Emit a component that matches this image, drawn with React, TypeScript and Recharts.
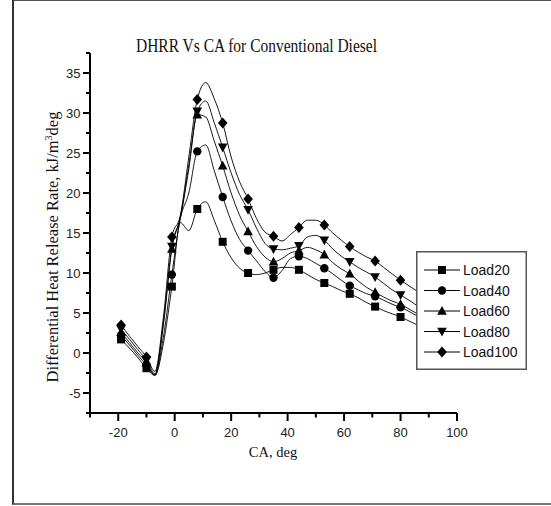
import React from 'react';
import { LineChart, Line, XAxis, YAxis, Legend } from 'recharts';

const CA = [-19, -16, -13, -10, -7, -4, -1, 2, 5, 8, 11, 14, 17, 20, 23, 26, 29, 32, 35, 38, 41, 44, 47, 50, 53, 56, 59, 62, 65, 68, 71, 74, 77, 80, 83, 86, 89];
const MARKER_CA = [-19, -10, -1, 8, 17, 26, 35, 44, 53, 62, 71, 80];

const LOAD20 = [1.7, 0.6, -0.6, -1.9, -2.8, 1.2, 8.3, 16.3, 15.3, 18.0, 18.9, 16.6, 13.9, 11.9, 10.6, 10.0, 9.8, 10.0, 10.4, 10.7, 10.7, 10.4, 9.8, 9.2, 8.75, 8.3, 7.8, 7.4, 6.9, 6.3, 5.8, 5.3, 4.9, 4.5, 4.0, 3.5, 3.0];
const LOAD40 = [2.2, 1.0, -0.3, -1.5, -2.7, 2.0, 9.8, 16.8, 20.0, 25.2, 26.0, 22.8, 19.5, 16.5, 14.2, 12.8, 11.5, 10.2, 9.4, 10.3, 11.8, 12.1, 11.8, 11.2, 10.6, 9.9, 9.1, 8.4, 7.9, 7.4, 7.1, 6.6, 6.1, 5.7, 5.2, 4.6, 4.1];
const LOAD60 = [2.6, 1.3, 0.0, -1.2, -2.8, 3.5, 13.0, 16.9, 23.0, 29.8, 29.5, 26.5, 23.4, 20.0, 17.2, 15.2, 13.3, 12.0, 11.4, 11.8, 12.5, 12.8, 13.2, 12.9, 12.3, 11.3, 10.5, 9.9, 9.0, 8.2, 7.6, 7.0, 6.5, 6.1, 5.5, 4.9, 4.3];
const LOAD80 = [3.0, 1.7, 0.4, -0.9, -2.6, 3.8, 13.3, 17.0, 23.5, 30.2, 31.5, 28.8, 25.7, 22.5, 19.8, 17.9, 15.6, 13.7, 13.0, 12.9, 13.1, 13.4, 14.5, 14.7, 14.1, 13.0, 12.1, 11.4, 10.7, 10.1, 9.5, 8.7, 7.9, 7.25, 6.6, 5.9, 5.2];
const LOAD100 = [3.5, 2.1, 0.8, -0.5, -2.3, 4.5, 14.5, 17.2, 24.5, 31.7, 33.8, 31.8, 28.75, 24.5, 21.4, 19.25, 16.8, 15.1, 14.6, 14.0, 14.8, 15.7, 16.6, 16.6, 16.0, 15.0, 14.1, 13.3, 12.6, 12.0, 11.5, 10.7, 9.9, 9.1, 8.4, 7.7, 7.0];

const SERIES_NAMES = ['Load20', 'Load40', 'Load60', 'Load80', 'Load100'];
const SERIES_KEYS = ['l20', 'l40', 'l60', 'l80', 'l100'];
const SERIES_VALUES = [LOAD20, LOAD40, LOAD60, LOAD80, LOAD100];
const SHAPES = ['square', 'circle', 'triangle', 'down', 'diamond'];

const X_TICKS = [-30, -20, -10, 0, 10, 20, 30, 40, 50, 60, 70, 80, 90, 100];
const Y_TICKS = [-7.5, -5, -2.5, 0, 2.5, 5, 7.5, 10, 12.5, 15, 17.5, 20, 22.5, 25, 27.5, 30, 32.5, 35, 37.5];

const data = CA.map((ca, i) => {
  const row: any = { ca };
  SERIES_KEYS.forEach((k, j) => { row[k] = SERIES_VALUES[j][i]; });
  return row;
});

const SANS = '"Liberation Sans", Arial, sans-serif';
const SERIF = '"Liberation Serif", "Times New Roman", serif';

function MarkerShape({ cx, cy, shape }: { cx: number; cy: number; shape: string }) {
  switch (shape) {
    case 'square':
      return <rect x={cx - 4} y={cy - 4} width={8} height={8} fill="#000" />;
    case 'circle':
      return <circle cx={cx} cy={cy} r={4.2} fill="#000" />;
    case 'triangle':
      return <polygon points={`${cx},${cy - 5} ${cx + 4.8},${cy + 3.8} ${cx - 4.8},${cy + 3.8}`} fill="#000" />;
    case 'down':
      return <polygon points={`${cx},${cy + 5} ${cx + 4.8},${cy - 3.8} ${cx - 4.8},${cy - 3.8}`} fill="#000" />;
    default:
      return <polygon points={`${cx},${cy - 5.5} ${cx + 4.8},${cy} ${cx},${cy + 5.5} ${cx - 4.8},${cy}`} fill="#000" />;
  }
}

const makeDot = (shape: string) => (props: any) => {
  const { cx, cy, payload, index } = props;
  if (cx == null || cy == null || !MARKER_CA.includes(payload.ca)) return <g key={`d-${shape}-${index}`} />;
  return (
    <g key={`d-${shape}-${index}`}>
      <MarkerShape cx={cx} cy={cy} shape={shape} />
    </g>
  );
};

const XTick = (props: any) => {
  const { x, y, payload } = props;
  const v = payload.value;
  const major = v % 20 === 0;
  return (
    <g>
      <line x1={x} x2={x} y1={y} y2={y + (major ? 8 : 4.5)} stroke="#000" strokeWidth={2} />
      {major && (
        <text x={x} y={y + 24} textAnchor="middle" fontFamily={SANS} fontSize={13} fill="#222">
          {v}
        </text>
      )}
    </g>
  );
};

const YTick = (props: any) => {
  const { x, y, payload } = props;
  const v = payload.value;
  const major = v % 5 === 0;
  return (
    <g>
      <line x1={x} x2={x - (major ? 7 : 4)} y1={y} y2={y} stroke="#000" strokeWidth={2} />
      {major && (
        <text x={x - 9.5} y={y} dy="0.36em" textAnchor="end" fontFamily={SANS} fontSize={13} fill="#222">
          {v}
        </text>
      )}
    </g>
  );
};

const LegendBox = () => (
  <svg width={111} height={119} style={{ display: 'block' }}>
    <rect x={0.75} y={0.75} width={109.5} height={117.5} fill="#fff" stroke="#555" strokeWidth={1.5} />
    {SERIES_NAMES.map((name, i) => {
      const y = 19 + i * 20.5;
      return (
        <g key={name}>
          <line x1={8} x2={44} y1={y} y2={y} stroke="#000" strokeWidth={1} />
          <MarkerShape cx={26} cy={y} shape={SHAPES[i]} />
          <text x={47} y={y} dy="0.36em" fontFamily={SANS} fontSize={14} fill="#111">
            {name}
          </text>
        </g>
      );
    })}
  </svg>
);

export default function App() {
  return (
    <div style={{ position: 'absolute', left: 0, top: 0, width: 551, height: 506, background: '#fff', overflow: 'hidden' }}>
      <div
        style={{
          position: 'absolute',
          left: 12,
          top: -1,
          width: 600,
          height: 502,
          borderLeft: '2px solid #333',
          borderTop: '2px solid #555',
          borderBottom: '2px solid #777',
        }}
      />
      <div style={{ position: 'absolute', left: 0, top: 0 }}>
        <LineChart width={551} height={506} data={data} margin={{ top: 53, right: 94, bottom: 0, left: 0 }}>
          <XAxis
            dataKey="ca"
            type="number"
            domain={[-30, 100]}
            ticks={X_TICKS}
            interval={0}
            tick={XTick}
            tickLine={false}
            tickSize={0}
            tickMargin={0}
            axisLine={{ stroke: '#000', strokeWidth: 2 }}
            height={93}
            allowDataOverflow
          />
          <YAxis
            type="number"
            domain={[-7.5, 37.5]}
            ticks={Y_TICKS}
            interval={0}
            tick={YTick}
            tickLine={false}
            tickSize={0}
            tickMargin={0}
            axisLine={{ stroke: '#000', strokeWidth: 2 }}
            width={90}
            allowDataOverflow
          />
          {SERIES_KEYS.map((k, j) => (
            <Line
              key={k}
              dataKey={k}
              name={SERIES_NAMES[j]}
              type="monotone"
              stroke="#000"
              strokeWidth={0.9}
              dot={makeDot(SHAPES[j])}
              activeDot={false}
              isAnimationActive={false}
            />
          ))}
          <Legend
            layout="vertical"
            align="center"
            verticalAlign="middle"
            content={<LegendBox />}
            wrapperStyle={{ position: 'absolute', left: 416, top: 251, width: 111, height: 119, margin: 0, padding: 0, lineHeight: 0 }}
          />
          <text x={256.5} y={52} textAnchor="middle" fontFamily={SERIF} fontSize={15.5} fill="#111" transform="translate(0,-8) scale(1,1.15)">
            DHRR Vs CA for Conventional Diesel
          </text>
          <text x={273} y={457} textAnchor="middle" fontFamily={SERIF} fontSize={14.5} fill="#111">
            CA, deg
          </text>
          <text transform="translate(58,247) rotate(-90)" textAnchor="middle" fontFamily={SERIF} fontSize={16.5} fill="#111">
            Differential Heat Release Rate, kJ/m<tspan dy={-6} fontSize={10}>3</tspan><tspan dy={6}>deg</tspan>
          </text>
        </LineChart>
      </div>
    </div>
  );
}
